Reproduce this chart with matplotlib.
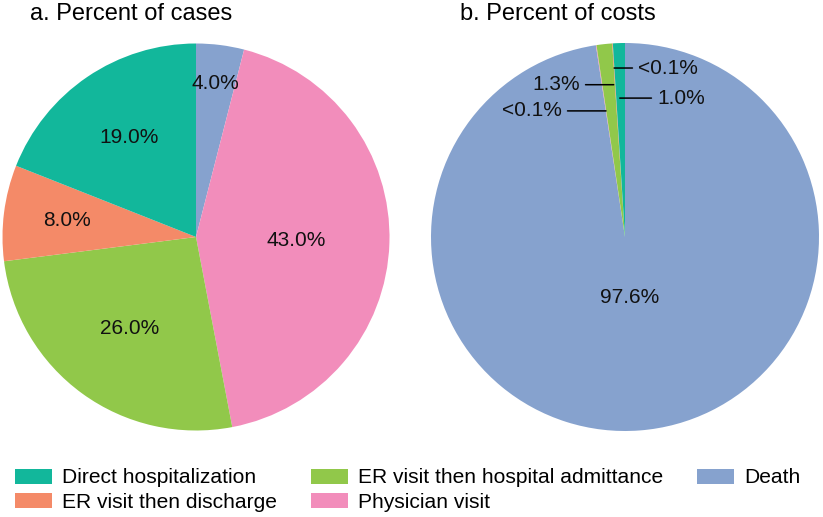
import numpy as np
import matplotlib
matplotlib.use("Agg")
import matplotlib.pyplot as plt

plt.rcParams['font.family'] = ['Liberation Sans', 'DejaVu Sans']

# Data (clockwise from 12 o'clock)
categories = ["Death", "Physician visit", "ER visit then hospital admittance",
              "ER visit then discharge", "Direct hospitalization"]
cases_pct = [4.0, 43.0, 26.0, 8.0, 19.0]
cases_labels = ["4.0%", "43.0%", "26.0%", "8.0%", "19.0%"]
costs_pct = [97.6, 0.05, 1.3, 0.05, 1.0]
costs_labels = ["97.6%", "<0.1%", "1.3%", "<0.1%", "1.0%"]
colors = ["#86a2ce", "#f28dbb", "#91c84a", "#f48a68", "#12b79b"]
legend_order = ["Direct hospitalization", "ER visit then discharge",
                "ER visit then hospital admittance", "Physician visit", "Death"]

W, H = 823, 517
fig = plt.figure(figsize=(W / 100, H / 100), dpi=100)

def px_axes(cx, cy, r):
    return fig.add_axes([(cx - r) / W, (H - cy - r) / H, 2 * r / W, 2 * r / H])

txt_kw = dict(fontsize=15, color="#111111")

# Pie a
ax1 = px_axes(196, 237, 193.5)
w1, _ = ax1.pie(cases_pct, colors=colors, startangle=90, counterclock=False,
                radius=1, labels=None, wedgeprops=dict(linewidth=0))
ax1.set_xlim(-1, 1); ax1.set_ylim(-1, 1); ax1.set_aspect('equal'); ax1.axis('off')
dists_a = [0.80, 0.52, 0.585, 0.67, 0.62]
for w, lab, d in zip(w1, cases_labels, dists_a):
    ang = np.deg2rad((w.theta1 + w.theta2) / 2)
    ax1.text(d * np.cos(ang), d * np.sin(ang), lab, ha='center', va='center', **txt_kw)
for w, c in zip(w1, categories):
    w.set_label(c)

# Pie b
ax2 = px_axes(625, 237, 194)
w2, _ = ax2.pie(costs_pct, colors=colors, startangle=90, counterclock=False,
                radius=1, labels=None, wedgeprops=dict(linewidth=0))
ax2.set_xlim(-1, 1); ax2.set_ylim(-1, 1); ax2.set_aspect('equal'); ax2.axis('off')

# big label
ang = np.deg2rad((w2[0].theta1 + w2[0].theta2) / 2)
ax2.text(0.315 * np.cos(ang), 0.315 * np.sin(ang), costs_labels[0], ha='center', va='center', **txt_kw)

# small labels with leader lines: (index, y, frac within wedge, text x, ha)
small = [
    (3, 0.871, 0.5, 0.067, 'left'),
    (4, 0.716, 0.6, 0.165, 'left'),
    (2, 0.785, 0.1, -0.232, 'right'),
    (1, 0.650, 0.5, -0.325, 'right'),
]
for idx, y, frac, tx, ha in small:
    w = w2[idx]
    phi = np.deg2rad(w.theta1 + frac * (w.theta2 - w.theta1))
    x = y * np.cos(phi) / np.sin(phi)
    ax2.annotate(costs_labels[idx], xy=(x, y), xytext=(tx, y), ha=ha, va='center',
                 arrowprops=dict(arrowstyle='-', color='black', lw=1.1, shrinkB=0),
                 **txt_kw)

# Titles
fig.text(30 / W, (H - 20) / H, "a. Percent of cases", fontsize=17, va='baseline', ha='left')
fig.text(460 / W, (H - 20) / H, "b. Percent of costs", fontsize=17, va='baseline', ha='left')

# Legend
hmap = {c: w for c, w in zip(categories, w1)}
handles = [hmap[c] for c in legend_order]
fig.legend(handles, legend_order, ncol=3, loc='center left',
           bbox_to_anchor=(15 / W, (H - 490) / H), frameon=False, fontsize=15.1,
           handlelength=1.78, handleheight=0.72, handletextpad=0.48,
           columnspacing=1.6, labelspacing=0.25, borderpad=0, borderaxespad=0)

fig.savefig("out.png", dpi=100)
